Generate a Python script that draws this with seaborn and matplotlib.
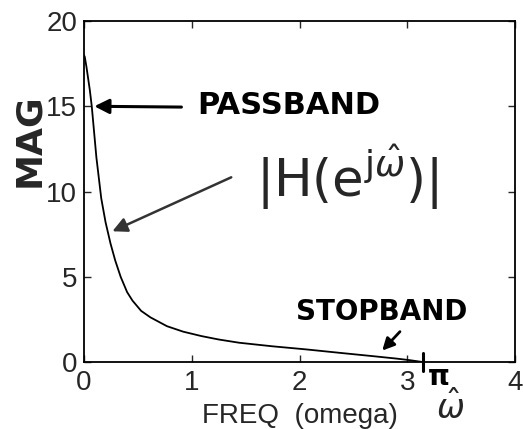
import numpy as np
import pandas as pd
import matplotlib
matplotlib.use("Agg")
import matplotlib.pyplot as plt
import seaborn as sns

# values
omega = [0.0, 0.007, 0.023, 0.054, 0.072, 0.115, 0.16, 0.20, 0.246, 0.29,
         0.34, 0.40, 0.45, 0.53, 0.616, 0.77, 0.92, 1.09, 1.25, 1.44, 1.75, 2.06,
         2.4, 2.67, 2.9, 3.02, 3.1416]
mag = [18.0, 17.9, 17.3, 15.95, 15.0, 12.0, 9.6, 8.2, 6.95, 5.95,
       5.0, 4.1, 3.6, 3.0, 2.62, 2.1, 1.78, 1.52, 1.32, 1.13, 0.92, 0.74,
       0.52, 0.35, 0.2, 0.11, 0.0]
xticks = [0, 1, 2, 3, 4]
yticks = [0, 5, 10, 15, 20]

df = pd.DataFrame({"omega": omega, "mag": mag})

sns.set_style("ticks")
plt.rcParams["font.family"] = ["Liberation Sans", "DejaVu Sans"]
plt.rcParams["mathtext.fontset"] = "dejavusans"

fig = plt.figure(figsize=(5.23, 4.29), dpi=100)
ax = fig.add_axes([84/523, 67/429, 431/523, 341/429])

sns.lineplot(data=df, x="omega", y="mag", color="black", linewidth=1.3, ax=ax)

ax.set_xlim(0, 4)
ax.set_ylim(0, 20)
ax.set_xticks(xticks)
ax.set_yticks(yticks)
ax.tick_params(direction="in", top=True, right=True, labelsize=20, length=5, width=1)
ax.tick_params(axis="x", pad=6)
ax.tick_params(axis="y", pad=5)
for s in ax.spines.values():
    s.set_linewidth(1.3)
    s.set_color("black")

ax.set_xlabel("FREQ  (omega)", fontsize=20, labelpad=5)
ax.set_ylabel("")
fig.text(29/523, 1 - 140/429, "MAG", rotation=90, ha="center", va="center",
         fontsize=26, fontweight="bold", family="DejaVu Sans")

hand = dict(family="DejaVu Sans", fontweight="bold", color="black")

# passband note
ax.text(1.05, 15.05, "PASSBAND", fontsize=22, va="center", ha="left", **hand)
ax.annotate("", xy=(0.07, 15.0), xytext=(0.93, 14.95),
            arrowprops=dict(arrowstyle="-|>", lw=2.2, color="black", mutation_scale=22))

# |H| note
ax.text(1.6, 10.85, r"$|\mathrm{H}(\mathrm{e}^{\mathrm{j}\hat{\omega}})|$", fontsize=37,
        va="center", ha="left")
ax.annotate("", xy=(0.24, 7.6), xytext=(1.39, 10.9),
            arrowprops=dict(arrowstyle="-|>", lw=1.8, color="#333333", mutation_scale=22))

# stopband note
ax.text(1.97, 2.95, "STOPBAND", fontsize=20, va="center", ha="left", **hand)
ax.annotate("", xy=(2.75, 0.55), xytext=(2.95, 1.9),
            arrowprops=dict(arrowstyle="-|>", lw=2, color="black", mutation_scale=18))

# handwritten pi mark and omega-hat
ax.plot([np.pi, np.pi], [-0.55, 0.55], color="black", lw=2.2, clip_on=False)
ax.text(3.29, -0.9, "π", fontsize=20, ha="center", va="center", **hand)
ax.text(3.40, -2.75, r"$\hat{\omega}$", fontsize=24, ha="center", va="center")

fig.savefig("out.png", dpi=100)
